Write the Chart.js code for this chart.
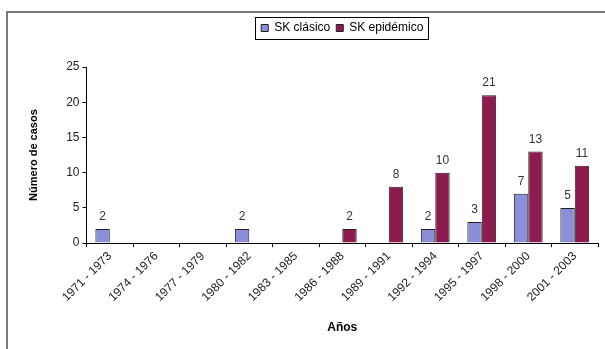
<!DOCTYPE html>
<html><head><meta charset="utf-8">
<script src="https://cdn.jsdelivr.net/npm/chart.js@4"></script>
<style>html,body{margin:0;padding:0;background:#fff}#wrap{width:605px;height:349px}</style>
</head><body><div id="wrap"><canvas id="c"></canvas></div>
<script>
const categories = ["1971 - 1973","1974 - 1976","1977 - 1979","1980 - 1982","1983 - 1985","1986 - 1988","1989 - 1991","1992 - 1994","1995 - 1997","1998 - 2000","2001 - 2003"];
const skClasico = [2,0,0,2,0,0,0,2,3,7,5];
const skEpidemico = [0,0,0,0,0,2,8,10,21,13,11];
const yTicks = [0,5,10,15,20,25];
const FONT = "'Liberation Sans', Arial, sans-serif";
const LEGEND_SHIFT = 23;

const framePlugin = {
  id:'frame',
  afterLayout(chart){
    const lg = chart.legend, ca = chart.chartArea;
    if (!lg) return;
    lg.top -= LEGEND_SHIFT; lg.bottom -= LEGEND_SHIFT;
    lg.left = ca.left; lg.right = ca.right; lg.width = ca.right - ca.left;
  },
  beforeDraw(chart){
    const c = chart.ctx;
    c.save();
    c.strokeStyle = '#7a7a7a'; c.lineWidth = 2;
    c.beginPath(); c.moveTo(7, 349); c.lineTo(7, 12); c.lineTo(605, 12); c.stroke();
    c.restore();
  },
  afterDraw(chart){
    const c = chart.ctx;
    const lg = chart.legend;
    if (lg && lg.legendHitBoxes.length){
      const hb = lg.legendHitBoxes;
      const x0 = hb[0].left - 6, x1 = hb[hb.length-1].left + hb[hb.length-1].width + 5;
      const y0 = hb[0].top - 5, y1 = hb[0].top + hb[0].height + 5;
      c.save(); c.strokeStyle = '#000'; c.lineWidth = 1;
      c.strokeRect(Math.round(x0)+0.5, Math.round(y0)+0.5, Math.round(x1-x0), Math.round(y1-y0));
      c.restore();
    }
    c.save();
    c.font = '12px ' + FONT; c.fillStyle = '#333'; c.textAlign = 'center'; c.textBaseline = 'bottom';
    chart.data.datasets.forEach((ds, i) => {
      const meta = chart.getDatasetMeta(i);
      meta.data.forEach((bar, j) => {
        const v = ds.data[j];
        if (v) c.fillText(String(v), bar.x, bar.y - 6);
      });
    });
    c.restore();
  }
};

new Chart(document.getElementById('c'), {
  type:'bar',
  data:{
    labels: categories,
    datasets:[
      {label:'SK clásico', data: skClasico.map(v => v || null), backgroundColor:'#8b8fd8', borderColor:'#222', borderWidth:1},
      {label:'SK epidémico', data: skEpidemico.map(v => v || null), backgroundColor:'#8e1b4f', borderColor:'#222', borderWidth:1}
    ]
  },
  options:{
    responsive:true, maintainAspectRatio:false, animation:false,
    layout:{padding:{top:16 + LEGEND_SHIFT, right:7, left:23, bottom:10}},
    plugins:{
      legend:{position:'top', labels:{boxWidth:7, boxHeight:7, color:'#000', font:{family:FONT, size:12}, padding:6}},
      tooltip:{enabled:false}
    },
    datasets:{bar:{categoryPercentage:0.62, barPercentage:1.0}},
    scales:{
      x:{
        grid:{display:true, drawOnChartArea:false, color:'#000', tickLength:4, offset:true},
        border:{color:'#000', width:1},
        ticks:{color:'#222', font:{family:FONT, size:12}, minRotation:45, maxRotation:45, padding:2},
        title:{display:true, text:'Años', color:'#000', font:{family:FONT, size:12, weight:'bold'}, padding:{top:14}}
      },
      y:{
        min:0, max:25,
        afterBuildTicks(axis){ axis.ticks = yTicks.map(v => ({value:v})); },
        grid:{display:true, drawOnChartArea:false, color:'#000', tickLength:4},
        border:{color:'#000', width:1},
        ticks:{color:'#222', font:{family:FONT, size:12}, padding:3},
        title:{display:true, text:'Número de casos', color:'#000', font:{family:FONT, size:11, weight:'bold'}, padding:{bottom:23}}
      }
    }
  },
  plugins:[framePlugin]
});
</script></body></html>
